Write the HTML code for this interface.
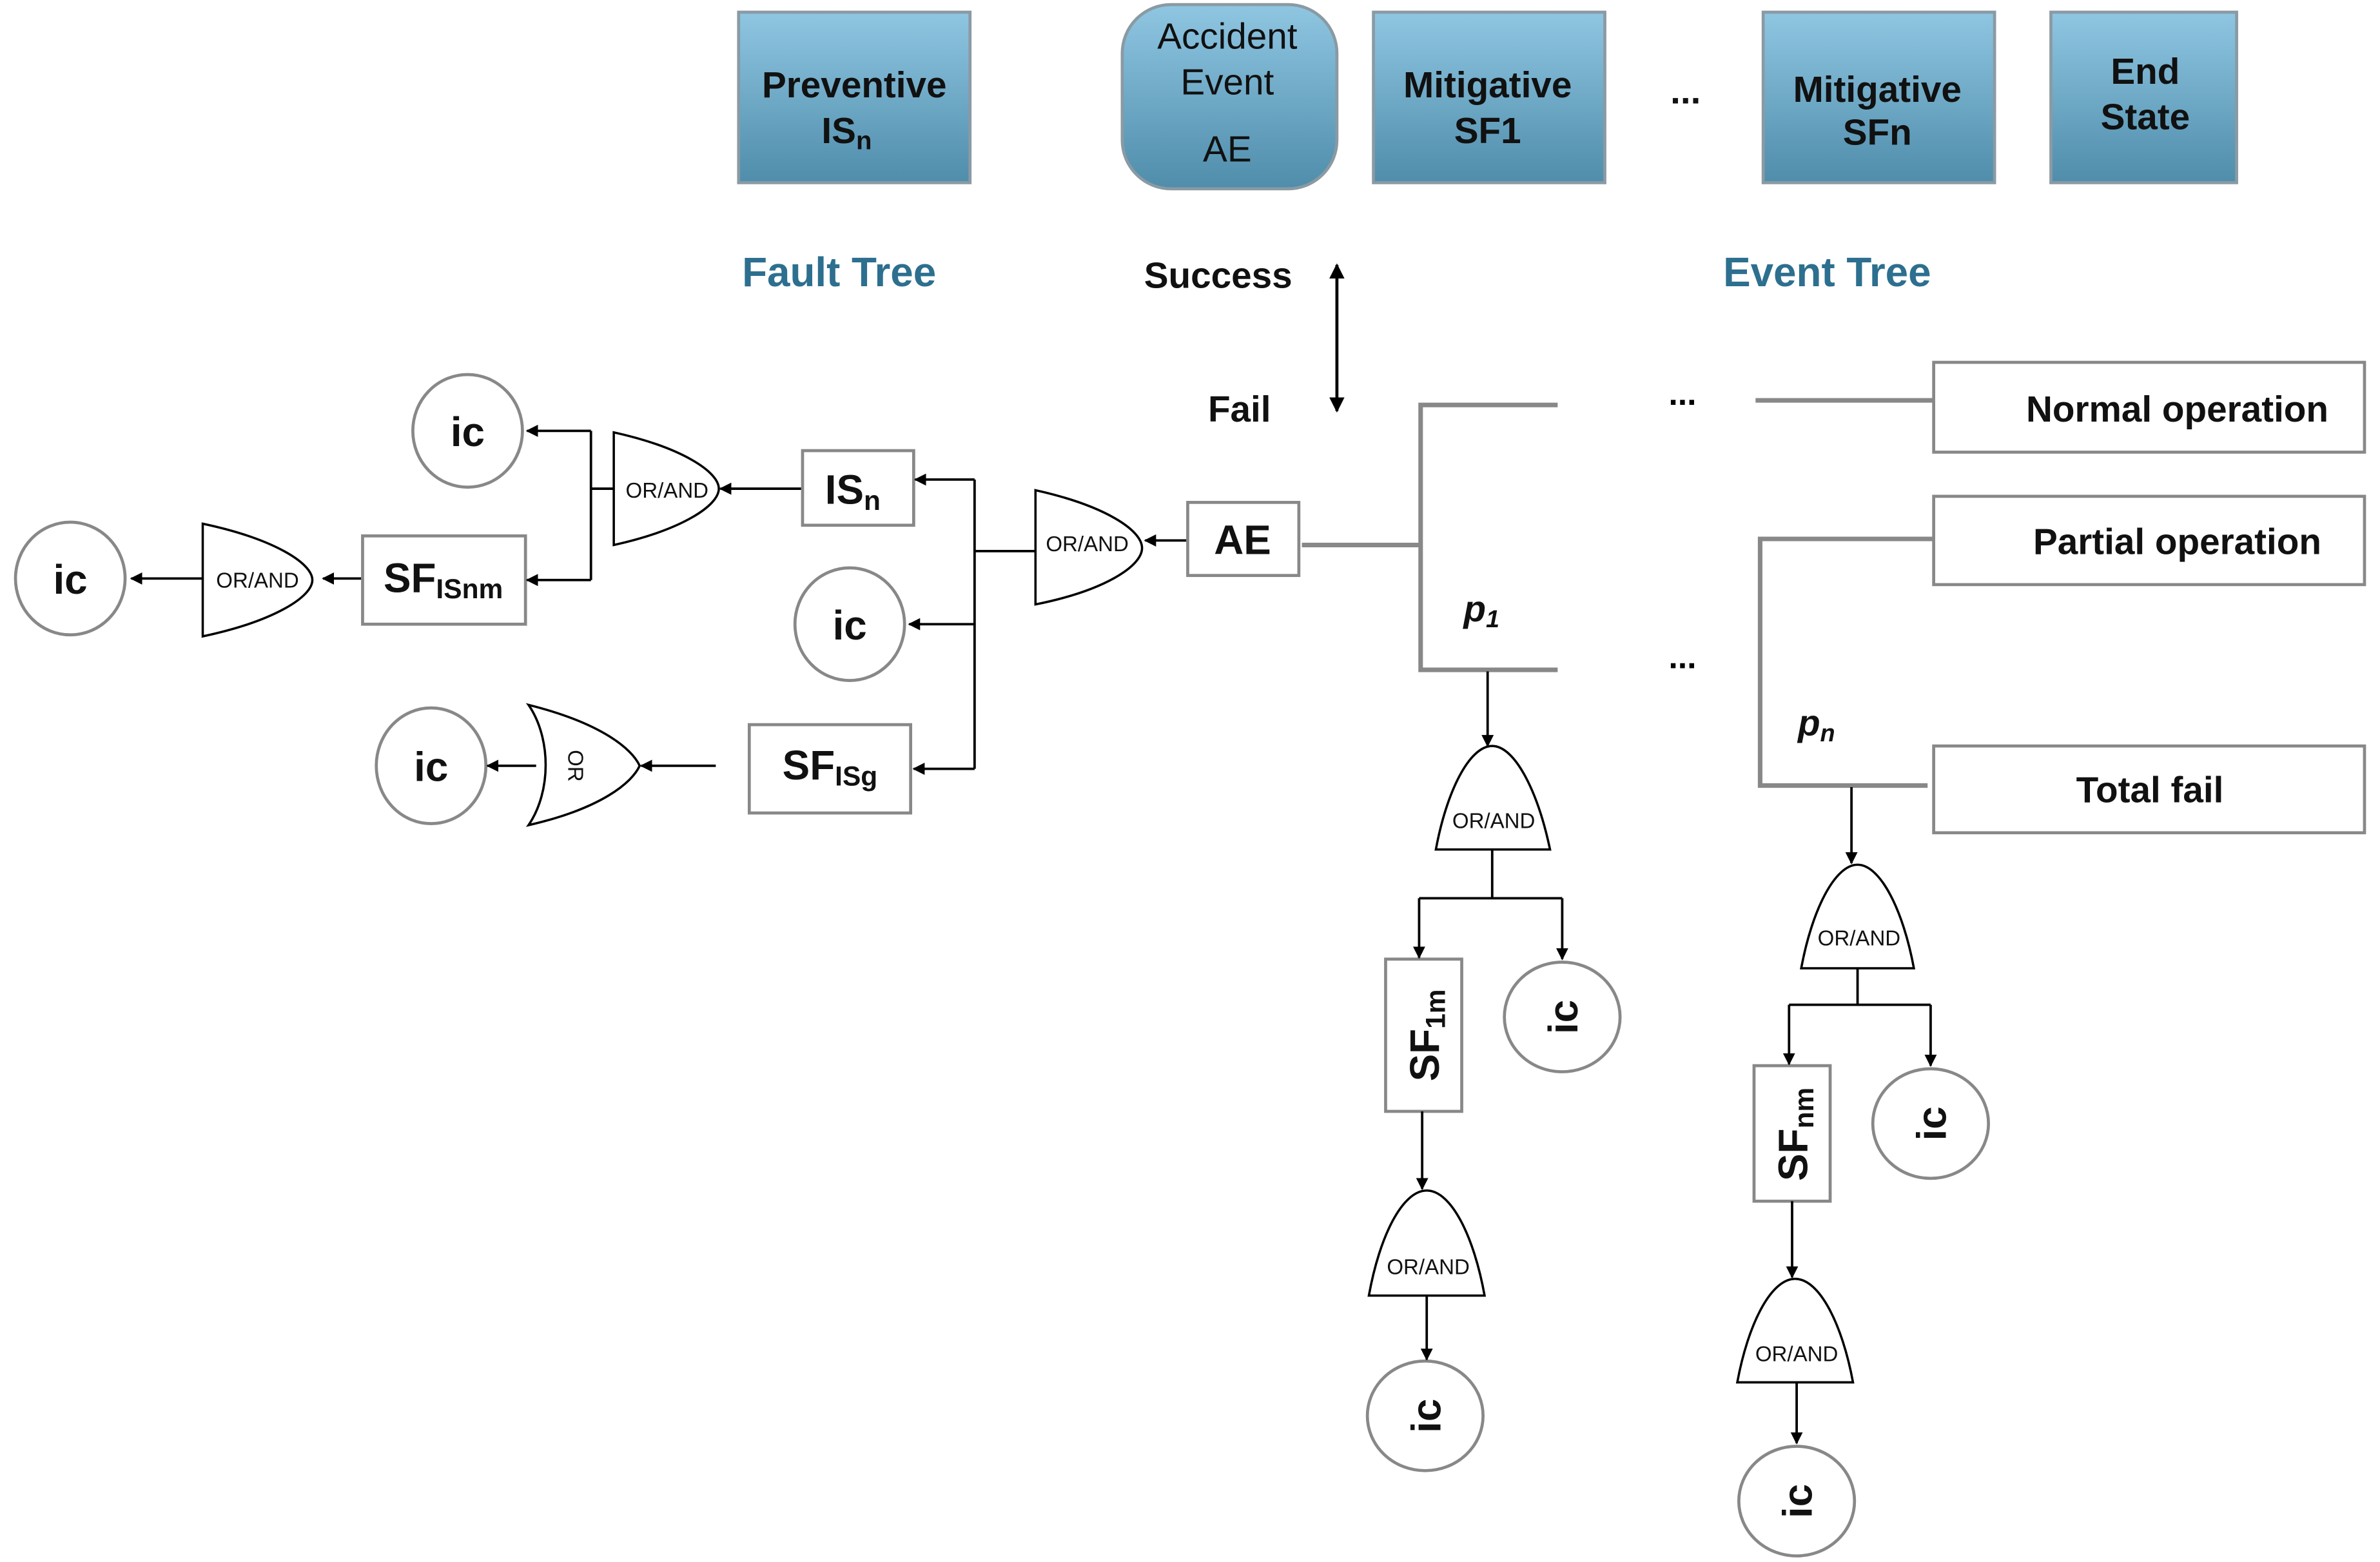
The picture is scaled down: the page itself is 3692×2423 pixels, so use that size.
<!DOCTYPE html>
<html><head><meta charset="utf-8"><style>html,body{margin:0;padding:0;background:#fff}svg{display:block}</style></head>
<body>
<svg xmlns="http://www.w3.org/2000/svg" width="3692" height="2423" viewBox="0 0 1563 1026" font-family="Liberation Sans, sans-serif">
<defs>
<linearGradient id="g" x1="0" y1="0" x2="0" y2="1"><stop offset="0" stop-color="#8fc6e2"/><stop offset="1" stop-color="#4f8dab"/></linearGradient>
<marker id="a" viewBox="0 0 10 10" refX="9" refY="5" markerWidth="5" markerHeight="5" orient="auto-start-reverse"><path d="M0,0 L10,5 L0,10 Z" fill="#000"/></marker>
</defs>
<rect width="1563" height="1026" fill="#fff"/>
<g stroke="#8a9aa3" stroke-width="2" fill="url(#g)">
<rect x="485" y="8" width="152" height="112"/>
<rect x="737" y="3" width="141" height="121" rx="32"/>
<rect x="902" y="8" width="152" height="112"/>
<rect x="1158" y="8" width="152" height="112"/>
<rect x="1347" y="8" width="122" height="112"/>
</g>
<g font-weight="bold" font-size="24" text-anchor="middle" fill="#111">
<text x="561" y="64">Preventive</text><text x="556" y="94">IS<tspan font-size="17" dy="4">n</tspan></text>
<text x="977" y="64">Mitigative</text><text x="977" y="94">SF1</text>
<text x="1233" y="67">Mitigative</text><text x="1233" y="95">SFn</text>
<text x="1409" y="55">End</text><text x="1409" y="85">State</text>
</g>
<g font-size="24" text-anchor="middle" fill="#111">
<text x="806" y="32">Accident</text><text x="806" y="62">Event</text><text x="806" y="106">AE</text>
<text x="1107" y="68" font-weight="bold">...</text>
</g>
<g font-weight="bold" font-size="27" text-anchor="middle">
<text x="551" y="188" fill="#2d6f8f">Fault Tree</text>
<text x="1200" y="188" fill="#2d6f8f">Event Tree</text>
<text x="800" y="189" font-size="24" fill="#111">Success</text>
<text x="814" y="277" font-size="24" fill="#111">Fail</text>
</g>
<line x1="878" y1="174" x2="878" y2="270" stroke="#000" stroke-width="2" marker-start="url(#a)" marker-end="url(#a)"/>
<!-- event tree gray lines -->
<g stroke="#888" stroke-width="3" fill="none">
<path d="M1023,266 H933 V440 H1023"/>
<path d="M855,358 H933"/>
<path d="M1153,263 H1270"/>
<path d="M1270,354 H1156 V516 H1266"/>
</g>
<g font-weight="bold" font-size="22" text-anchor="middle"><text x="1105" y="266">...</text><text x="1105" y="439">...</text></g>
<g fill="#fff" stroke="#888" stroke-width="2">
<rect x="1270" y="238" width="283" height="59"/>
<rect x="1270" y="326" width="283" height="58"/>
<rect x="1270" y="490" width="283" height="57"/>
</g>
<g font-weight="bold" font-size="24" text-anchor="middle" fill="#111">
<text x="1430" y="277">Normal operation</text>
<text x="1430" y="364">Partial operation</text>
<text x="1412" y="527">Total fail</text>
<text x="973" y="408" font-style="italic">p<tspan font-size="16" dy="4">1</tspan></text>
<text x="1193" y="483" font-style="italic">p<tspan font-size="16" dy="4">n</tspan></text>
</g>
<!-- boxes -->
<g fill="#fff" stroke="#888" stroke-width="2">
<rect x="780" y="330" width="73" height="48"/>
<rect x="527" y="296" width="73" height="49"/>
<rect x="492" y="476" width="106" height="58"/>
<rect x="238" y="352" width="107" height="58"/>
<rect x="910" y="630" width="50" height="100"/>
<rect x="1152" y="700" width="50" height="89"/>
<ellipse cx="558" cy="410" rx="36" ry="37"/>
<ellipse cx="283" cy="503" rx="36" ry="38"/>
<ellipse cx="307" cy="283" rx="36" ry="37"/>
<ellipse cx="46" cy="380" rx="36" ry="37"/>
<ellipse cx="1026" cy="668" rx="38" ry="36"/>
<ellipse cx="936" cy="930" rx="38" ry="36"/>
<ellipse cx="1268" cy="738" rx="38" ry="36"/>
<ellipse cx="1180" cy="986" rx="38" ry="36"/>
</g>
<!-- gates -->
<g fill="#fff" stroke="#000" stroke-width="1.5">
<path d="M680,322 C725,332 750,348 750,360 C750,372 725,388 680,397 Z"/>
<path d="M403,284 C448,294 472,310 472,321 C472,332 448,348 403,358 Z"/>
<path d="M133,344 C180,354 205,370 205,381 C205,392 180,408 133,418 Z"/>
<path d="M347,463 C395,475 415,492 420,503 C415,514 395,531 347,542 C362,520 362,485 347,463 Z"/>
<path d="M943,558 C950,520 965,490 980,490 C995,490 1010,520 1018,558 Z"/>
<path d="M899,851 C906,812 921,782 937,782 C953,782 968,812 975,851 Z"/>
<path d="M1183,636 C1190,598 1205,568 1220,568 C1235,568 1250,598 1257,636 Z"/>
<path d="M1141,908 C1148,870 1163,840 1179,840 C1195,840 1210,870 1217,908 Z"/>
</g>
<g font-size="14" text-anchor="middle" fill="#111">
<text x="714" y="362">OR/AND</text><text x="438" y="327">OR/AND</text><text x="169" y="386">OR/AND</text>
<text x="981" y="544">OR/AND</text><text x="938" y="837">OR/AND</text><text x="1221" y="621">OR/AND</text><text x="1180" y="894">OR/AND</text>
<text transform="translate(378,503) rotate(90)" y="5">OR</text>
</g>
<!-- connectors -->
<g stroke="#000" stroke-width="1.6" fill="none">
<line x1="779" y1="355" x2="752" y2="355" marker-end="url(#a)"/>
<path d="M680,362 H640"/>
<path d="M640,315 V505"/>
<line x1="640" y1="315" x2="601" y2="315" marker-end="url(#a)"/>
<line x1="640" y1="410" x2="597" y2="410" marker-end="url(#a)"/>
<line x1="640" y1="505" x2="600" y2="505" marker-end="url(#a)"/>
<line x1="526" y1="321" x2="473" y2="321" marker-end="url(#a)"/>
<path d="M403,321 H388 M388,283 V381"/>
<line x1="388" y1="283" x2="346" y2="283" marker-end="url(#a)"/>
<line x1="388" y1="381" x2="346" y2="381" marker-end="url(#a)"/>
<line x1="237" y1="380" x2="212" y2="380" marker-end="url(#a)"/>
<line x1="133" y1="380" x2="86" y2="380" marker-end="url(#a)"/>
<line x1="470" y1="503" x2="421" y2="503" marker-end="url(#a)"/>
<line x1="352" y1="503" x2="320" y2="503" marker-end="url(#a)"/>
<line x1="977" y1="441" x2="977" y2="490" marker-end="url(#a)"/>
<path d="M980,558 V590 M932,590 H1026"/>
<line x1="932" y1="590" x2="932" y2="629" marker-end="url(#a)"/>
<line x1="1026" y1="590" x2="1026" y2="630" marker-end="url(#a)"/>
<line x1="934" y1="730" x2="934" y2="781" marker-end="url(#a)"/>
<line x1="937" y1="851" x2="937" y2="893" marker-end="url(#a)"/>
<line x1="1216" y1="517" x2="1216" y2="567" marker-end="url(#a)"/>
<path d="M1220,636 V660 M1175,660 H1268"/>
<line x1="1175" y1="660" x2="1175" y2="699" marker-end="url(#a)"/>
<line x1="1268" y1="660" x2="1268" y2="700" marker-end="url(#a)"/>
<line x1="1177" y1="789" x2="1177" y2="839" marker-end="url(#a)"/>
<line x1="1180" y1="908" x2="1180" y2="948" marker-end="url(#a)"/>
</g>
<!-- labels -->
<g font-weight="bold" font-size="27" text-anchor="middle" fill="#111">
<text x="816" y="364">AE</text>
<text x="560" y="331">IS<tspan font-size="18" dy="4">n</tspan></text>
<text x="545" y="512">SF<tspan font-size="18" dy="4">ISg</tspan></text>
<text x="291" y="389">SF<tspan font-size="18" dy="4">ISnm</tspan></text>
<text x="558" y="420">ic</text><text x="283" y="513">ic</text><text x="307" y="293">ic</text><text x="46" y="390">ic</text>
<text transform="translate(1026,668) rotate(-90)" y="10">ic</text>
<text transform="translate(936,930) rotate(-90)" y="10">ic</text>
<text transform="translate(1268,738) rotate(-90)" y="10">ic</text>
<text transform="translate(1180,986) rotate(-90)" y="10">ic</text>
<text transform="translate(935,680) rotate(-90)" y="10">SF<tspan font-size="18" dy="4">1m</tspan></text>
<text transform="translate(1177,745) rotate(-90)" y="10">SF<tspan font-size="18" dy="4">nm</tspan></text>
</g>
</svg>
</body></html>
